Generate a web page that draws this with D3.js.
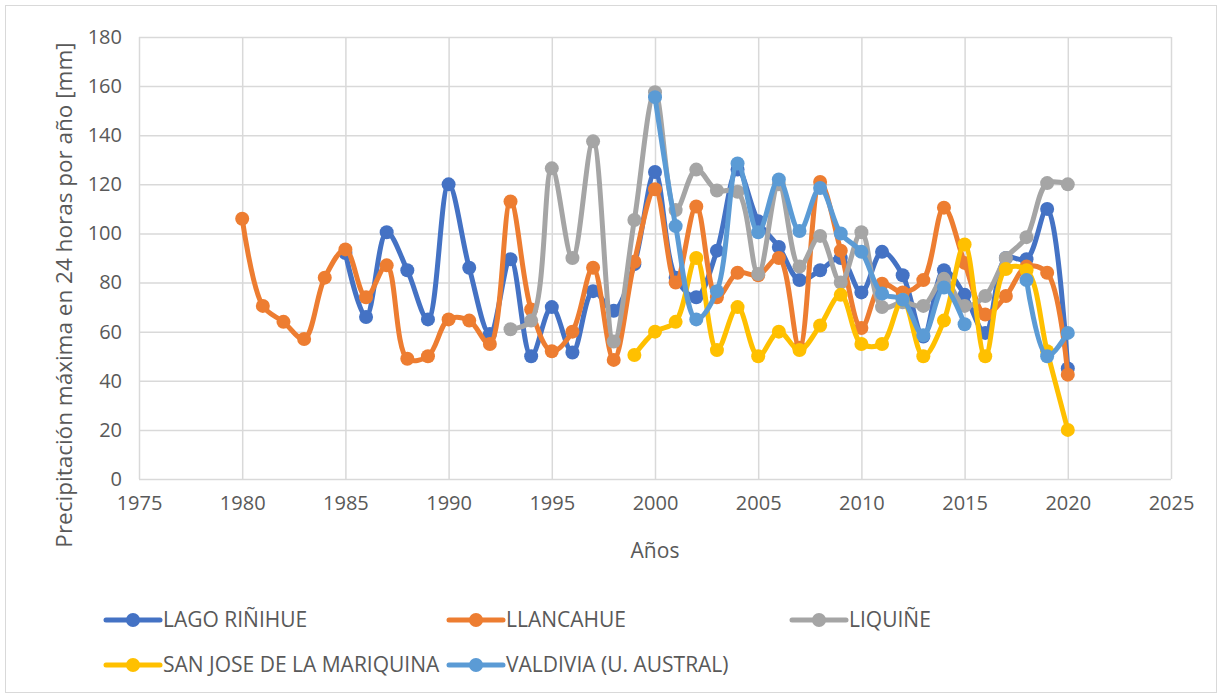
<!DOCTYPE html>
<html>
<head>
<meta charset="utf-8">
<script src="https://cdn.jsdelivr.net/npm/d3@7"></script>
<style>
  body { margin: 0; background: #fff; }
  text { font-family: "Open Sans", "Liberation Sans", sans-serif; fill: #595959; }
</style>
</head>
<body>
<div id="chart"></div>
<script>
// years on the x axis
var years = [1980,1981,1982,1983,1984,1985,1986,1987,1988,1989,1990,1991,1992,1993,1994,1995,1996,1997,1998,1999,
             2000,2001,2002,2003,2004,2005,2006,2007,2008,2009,2010,2011,2012,2013,2014,2015,2016,2017,2018,2019,2020];

// one value per year, null = no data
var lagoRinihue = [null,null,null,null,null,92,66,100.5,85,65,120,86,59,89.5,50,70,51.5,76.5,68.5,87.5,
                   125,82,74,93,126,105,94.5,81,85,90,76,92.5,83,58,85,75,59.5,90,89.5,110,45];
var llancahue = [106,70.5,64,57,82,93.5,74,87,49,50,65,64.5,55,113,69,52,60,86,48.5,88.5,
                 118,80,111,74,84,83,90,53.5,121,93,61.5,79.5,76,81,110.5,88,67,74.5,86.5,84,42.5];
var liquine = [null,null,null,null,null,null,null,null,null,null,null,null,null,61,64.5,126.5,90,137.5,56,105.5,
               157.5,109.5,126,117.5,117,83.5,120,86.5,99,80,100.5,70,72,70.5,81.5,70.5,74.5,90,98.5,120.5,120];
var sanJose = [null,null,null,null,null,null,null,null,null,null,null,null,null,null,null,null,null,null,null,50.5,
               60,64,90,52.5,70,50,60,52.5,62.5,75,55,55,73,50,64.5,95.5,50,85.5,85,52,20];
var valdivia = [null,null,null,null,null,null,null,null,null,null,null,null,null,null,null,null,null,null,null,null,
                155.5,103,65,76.5,128.5,100.5,122,101,118.5,100,92.5,75.5,73,58.5,78,63,null,null,81,50,59.5];

var seriesNames = ["LAGO RIÑIHUE", "LLANCAHUE", "LIQUIÑE", "SAN JOSE DE LA MARIQUINA", "VALDIVIA (U. AUSTRAL)"];
var seriesValues = [lagoRinihue, llancahue, liquine, sanJose, valdivia];
var colors = ["#4472C4", "#ED7D31", "#A5A5A5", "#FFC000", "#5B9BD5"];

var xTicks = [1975,1980,1985,1990,1995,2000,2005,2010,2015,2020,2025];
var yTicks = [0,20,40,60,80,100,120,140,160,180];

var W = 1222, H = 695;
var margin = {top: 37, right: 51, bottom: 216, left: 139};
var width = W - margin.left - margin.right;
var height = H - margin.top - margin.bottom;

var svg = d3.select("#chart").append("svg")
    .attr("width", W)
    .attr("height", H);

// outer chart border
svg.append("rect")
    .attr("x", 5.5).attr("y", 5.5)
    .attr("width", W - 11).attr("height", H - 8)
    .attr("fill", "none")
    .attr("stroke", "#D9D9D9");

var g = svg.append("g")
    .attr("transform", "translate(" + margin.left + "," + margin.top + ")");

var x = d3.scaleLinear().domain([1975, 2025]).range([0, width]);
var y = d3.scaleLinear().domain([0, 180]).range([height, 0]);

// grid lines
g.append("g")
    .call(d3.axisLeft(y).tickValues(yTicks).tickSize(-width).tickFormat(""))
    .call(function(s){ s.select(".domain").remove(); })
    .selectAll("line").attr("stroke", "#D9D9D9").attr("stroke-width", 1.5);

g.append("g")
    .attr("transform", "translate(0," + height + ")")
    .call(d3.axisBottom(x).tickValues(xTicks).tickSize(-height).tickFormat(""))
    .call(function(s){ s.select(".domain").remove(); })
    .selectAll("line").attr("stroke", "#D9D9D9").attr("stroke-width", 1.5);

// tick labels
var yAxis = g.append("g")
    .call(d3.axisLeft(y).tickValues(yTicks).tickSize(0).tickPadding(17));
yAxis.select(".domain").remove();
yAxis.selectAll("text").style("font-size", "20px").style("fill", "#595959");

var xAxis = g.append("g")
    .attr("transform", "translate(0," + height + ")")
    .call(d3.axisBottom(x).tickValues(xTicks).tickSize(0).tickPadding(17).tickFormat(d3.format("d")));
xAxis.select(".domain").remove();
xAxis.selectAll("text").style("font-size", "20px").style("fill", "#595959");

// axis titles
svg.append("text")
    .attr("x", 655).attr("y", 558)
    .attr("text-anchor", "middle")
    .style("font-size", "21px")
    .text("Años");

svg.append("text")
    .attr("transform", "translate(64,295) rotate(-90)")
    .attr("dy", "0.35em")
    .attr("text-anchor", "middle")
    .style("font-size", "22.5px")
    .text("Precipitación máxima en 24 horas por año [mm]");

// lines
var line = d3.line()
    .defined(function(d){ return d != null; })
    .x(function(d, i){ return x(years[i]); })
    .y(function(d){ return y(d); })
    .curve(d3.curveCatmullRom.alpha(0.5));

seriesValues.forEach(function(vals, k){
    g.append("path")
        .datum(vals)
        .attr("fill", "none")
        .attr("stroke", colors[k])
        .attr("stroke-width", 5)
        .attr("stroke-linejoin", "round")
        .attr("d", line);

    g.selectAll(".pt" + k)
        .data(vals.map(function(v, i){ return {v: v, yr: years[i]}; }).filter(function(d){ return d.v != null; }))
        .enter().append("circle")
        .attr("class", "pt" + k)
        .attr("cx", function(d){ return x(d.yr); })
        .attr("cy", function(d){ return y(d.v); })
        .attr("r", 7)
        .attr("fill", colors[k]);
});

// legend
var legendPos = [[106, 620], [449, 620], [792, 620], [106, 665], [449, 665]];
seriesNames.forEach(function(name, k){
    var lg = svg.append("g").attr("transform", "translate(" + legendPos[k][0] + "," + legendPos[k][1] + ")");
    lg.append("line")
        .attr("x1", 0).attr("x2", 54)
        .attr("stroke", colors[k]).attr("stroke-width", 5)
        .attr("stroke-linecap", "round");
    lg.append("circle").attr("cx", 27).attr("r", 7).attr("fill", colors[k]);
    lg.append("text")
        .attr("x", 57).attr("dy", "0.35em")
        .style("font-size", "21px")
        .text(name);
});
</script>
</body>
</html>
